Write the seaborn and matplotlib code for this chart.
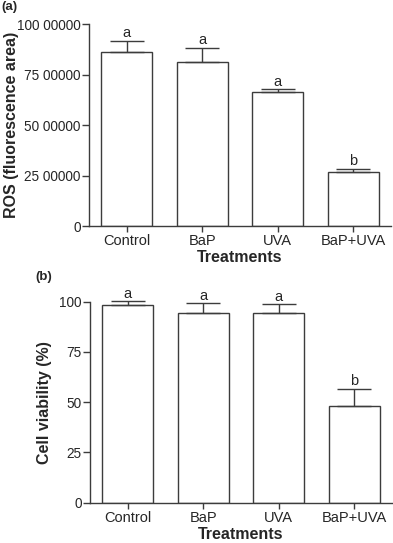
import numpy as np
import pandas as pd
import seaborn as sns
import matplotlib.pyplot as plt

treatments = ["Control", "BaP", "UVA", "BaP+UVA"]

# panel (a): ROS, fluorescence area
ros_mean = [8630000, 8130000, 6650000, 2690000]
ros_err = [530000, 700000, 120000, 150000]
ros_letters = ["a", "a", "a", "b"]
ros_ticks = [0, 2500000, 5000000, 7500000, 10000000]
ros_ticklabels = ["0", "25 00000", "50 00000", "75 00000", "100 00000"]

# panel (b): cell viability (%)
via_mean = [98.5, 94.5, 94.2, 48.1]
via_err = [1.7, 4.7, 4.5, 8.6]
via_letters = ["a", "a", "a", "b"]
via_ticks = [0, 25, 50, 75, 100]

sns.set_style("ticks")
plt.rcParams["font.family"] = ["Liberation Sans", "DejaVu Sans"]

line_c = "#3c3c3c"

fig = plt.figure(figsize=(3.93, 5.43), dpi=100)
ax_a = fig.add_axes([89 / 393, 1 - 226 / 543, 302 / 393, 202 / 543])
ax_b = fig.add_axes([90 / 393, 1 - 502.7 / 543, 302 / 393, 201 / 543])


def draw_panel(ax, means, errs, letters, ticks, ticklabels, ylabel, ylab_x, xlab_y):
    df = pd.DataFrame({"Treatments": treatments, "value": means})
    sns.barplot(data=df, x="Treatments", y="value", ax=ax, width=0.67,
                color="white", edgecolor=line_c, linewidth=1.0, errorbar=None)
    x = np.arange(len(means))
    ax.errorbar(x, means, yerr=[np.zeros(len(errs)), errs], fmt="none",
                ecolor=line_c, elinewidth=1.0, capsize=12.5, capthick=1.0,
                clip_on=False)
    for xi, m, e, lab in zip(x, means, errs, letters):
        ax.annotate(lab, (xi, m + e), xytext=(0, 0.5), textcoords="offset points",
                    ha="center", va="bottom", fontsize=10.5, annotation_clip=False)
    top = ticks[-1]
    ax.set_ylim(0, top)
    ax.set_xlim(-0.5, 3.5)
    ax.set_yticks(ticks)
    ax.set_yticklabels(ticklabels, fontsize=9.8)
    ax.tick_params(axis="y", length=5, width=1.0, color=line_c, pad=1)
    ax.tick_params(axis="x", length=4, width=1.0, color=line_c, pad=2, labelsize=10.5)
    sns.despine(ax=ax)
    for s in ["left", "bottom"]:
        ax.spines[s].set_color(line_c)
        ax.spines[s].set_linewidth(1.0)
    ax.set_ylabel(ylabel, fontsize=11.5, fontweight="bold")
    ax.yaxis.set_label_coords(ylab_x, 0.5)
    ax.set_xlabel("Treatments", fontsize=11.5, fontweight="bold")
    ax.xaxis.set_label_coords(0.5, xlab_y)
    ax.xaxis.label.set_va("center")
    ax.yaxis.label.set_va("center")


draw_panel(ax_a, ros_mean, ros_err, ros_letters, ros_ticks, ros_ticklabels,
           "ROS (fluorescence area)", -0.258, -0.158)
draw_panel(ax_b, via_mean, via_err, via_letters, via_ticks,
           [str(t) for t in via_ticks], "Cell viability (%)", -0.152, -0.160)

fig.text(1 / 393, 1 - 7 / 543, "(a)", fontsize=9.5, fontweight="bold", va="center", ha="left")
fig.text(35 / 393, 1 - 277 / 543, "(b)", fontsize=9.5, fontweight="bold", va="center", ha="left")

fig.savefig("out.png", dpi=100)
